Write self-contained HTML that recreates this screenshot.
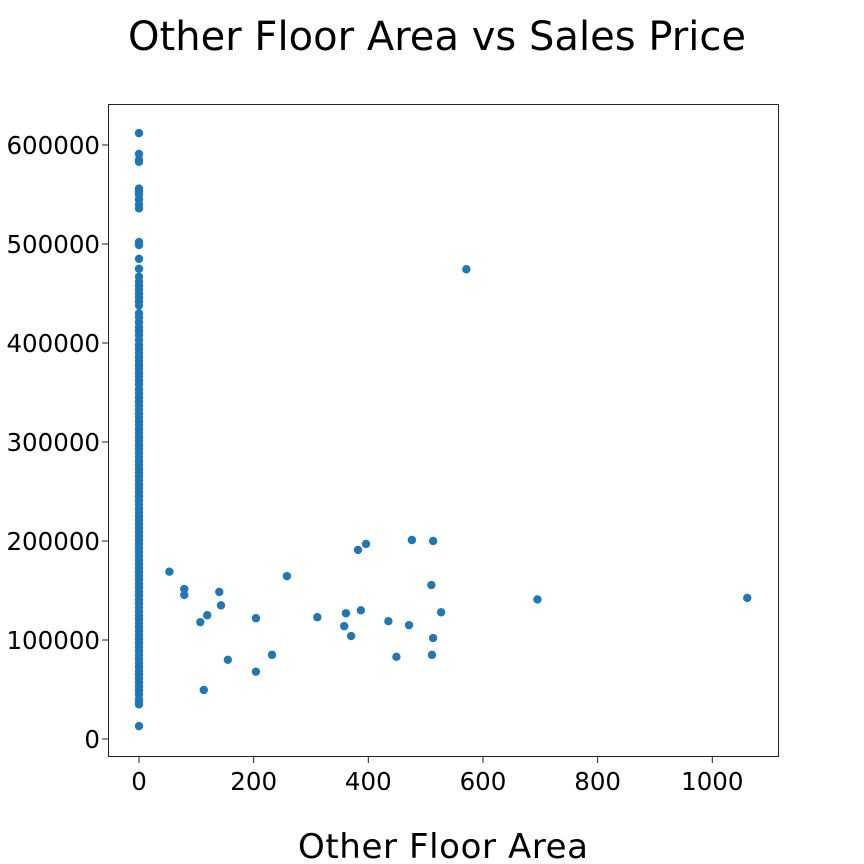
<!DOCTYPE html>
<html><head><meta charset="utf-8"><style>
body{margin:0;background:#fff;}
svg{display:block;font-family:"DejaVu Sans","Liberation Sans",sans-serif;}
</style></head><body>
<svg id="chart" width="864" height="864">
<text x="437" y="50" font-size="40" text-anchor="middle" textLength="618">Other Floor Area vs Sales Price</text>
<text x="443" y="858" font-size="34" text-anchor="middle" textLength="290">Other Floor Area</text>
<rect x="108.5" y="104.5" width="670" height="652" fill="none" stroke="#222" stroke-width="1"/>
<g id="xticks"></g><g id="yticks"></g><g id="points"></g>
</svg>
<script>
const xTickValues=[0,200,400,600,800,1000];
const yTickValues=[0,100000,200000,300000,400000,500000,600000];
const zeroAreaPrices=[612000,591000,585000,583000,556000,553000,550000,545000,540000,536000,502000,499000,485000,475000,467000,462000,458000,454000,450000,446000,442000,438000,430000,426000,421000,416000,412000,408000,403000,398000,394000,390000,386000,382000,378000,374000,370000,366000,362000,358000,353000,349000,345000,341000,337000,333000,329000,325000,321000,317000,313000,309000,305000,301000,297000,293000,289000,285000,281000,277000,273000,269000,265000,261000,257000,253000,249000,245000,241000,237000,233000,229000,225000,221000,217000,213000,209000,205000,201000,197000,193000,189000,185000,181000,177000,173000,169000,165000,161000,157000,153000,149000,145000,141000,137000,133000,129000,125000,121000,117000,113000,109000,105000,101000,97000,93000,89000,85000,81000,77000,73000,69000,65000,61000,57000,53000,49000,45000,40000,37000,35000,13000];
const otherAreas=[53,79,79,140,143,119,107,113,155,204,204,232,258,311,358,361,370,382,387,396,435,449,471,476,510,513,511,513,527,571,695,1061];
const otherPrices=[169000,151500,145500,148500,135000,125000,118000,49500,80000,122000,68000,85000,164500,123000,114000,127000,104000,191000,130000,197000,119000,83000,115000,201000,155500,200000,85000,102000,128000,474500,141000,142500];
const NS="http://www.w3.org/2000/svg";
const xs=v=>139+v*0.5733;
const ys=v=>739-v*0.00099;
const xg=document.getElementById('xticks'),yg=document.getElementById('yticks'),pg=document.getElementById('points');
function mk(tag,attrs,parent){const e=document.createElementNS(NS,tag);for(const k in attrs)e.setAttribute(k,attrs[k]);parent.appendChild(e);return e;}
xTickValues.forEach(v=>{
 const l=mk('line',{x1:xs(v),x2:xs(v),y1:757,y2:763,stroke:'#222'},xg);
 
 
 const t=mk('text',{x:xs(v),y:790,'font-size':24.5,'text-anchor':'middle'},xg);
 t.textContent=v;
 
 
});
yTickValues.forEach(v=>{
 const l=mk('line',{x1:102,x2:108,y1:ys(v),y2:ys(v),stroke:'#222'},yg);
 
 
 const t=mk('text',{x:100,y:ys(v)+9,'font-size':24.5,'text-anchor':'end'},yg);
 t.textContent=v;
 
 
});
zeroAreaPrices.forEach(p=>{
 const c=mk('circle',{cx:xs(0),cy:ys(p),r:4.2,fill:'#1f77b4'},pg);
 
 
});
otherAreas.forEach((a,i)=>{
 const c=mk('circle',{cx:xs(a),cy:ys(otherPrices[i]),r:4.2,fill:'#1f77b4'},pg);
 
 
});
</script>
</body></html>
